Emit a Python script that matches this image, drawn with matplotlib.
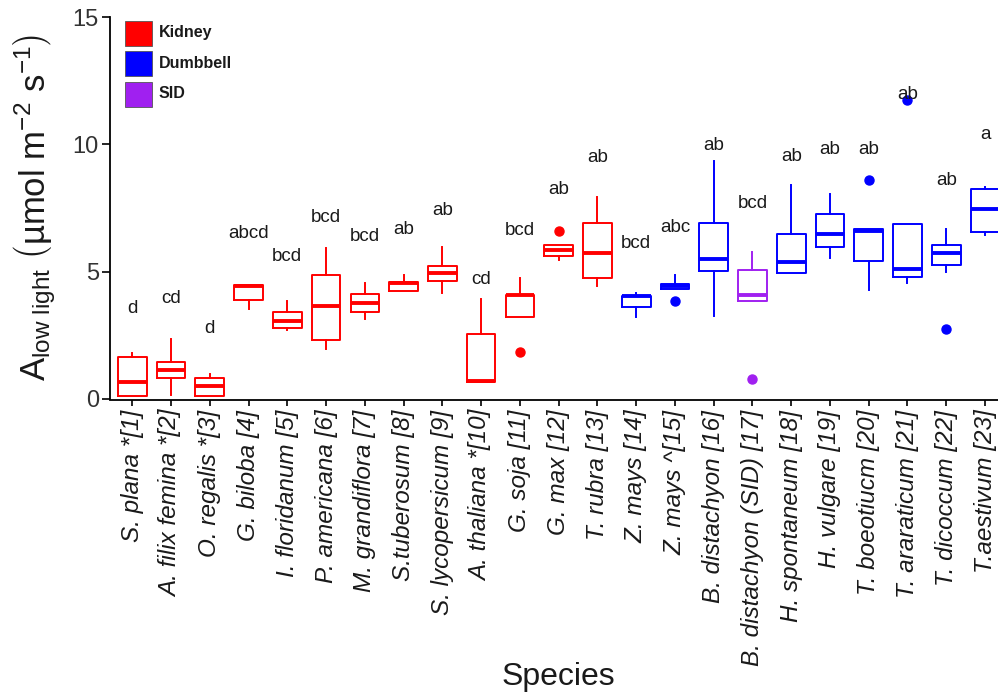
import matplotlib
matplotlib.use("Agg")
import matplotlib.pyplot as plt
from matplotlib.patches import Rectangle

plt.rcParams['font.family'] = ['Liberation Sans', 'DejaVu Sans']
plt.rcParams['mathtext.fontset'] = 'custom'
plt.rcParams['mathtext.rm'] = 'Liberation Sans'
plt.rcParams['mathtext.it'] = 'Liberation Sans:italic'
plt.rcParams['mathtext.bf'] = 'Liberation Sans:bold'

# ---- data -------------------------------------------------------------
species = ["S. plana *[1]", "A. filix femina *[2]", "O. regalis *[3]", "G. biloba [4]",
           "I. floridanum [5]", "P. americana [6]", "M. grandiflora [7]", "S.tuberosum [8]",
           "S. lycopersicum [9]", "A. thaliana *[10]", "G. soja [11]", "G. max [12]",
           "T. rubra [13]", "Z. mays [14]", "Z. mays ^[15]", "B. distachyon [16]",
           "B. distachyon (SID) [17]", "H. spontaneum [18]", "H. vulgare [19]",
           "T. boeotiucm [20]", "T. araraticum [21]", "T. dicoccum [22]", "T.aestivum [23]"]

stomata = ["Kidney"] * 13 + ["Dumbbell"] * 3 + ["SID"] + ["Dumbbell"] * 6

q1 = [0.12, 0.81, 0.12, 3.89, 2.79, 2.32, 3.42, 4.23, 4.65, 0.66, 3.21, 5.61,
      4.74, 3.62, 4.33, 5.01, 3.83, 4.93, 5.96, 5.42, 4.79, 5.27, 6.57]
median = [0.65, 1.14, 0.51, 4.43, 3.06, 3.66, 3.76, 4.55, 4.93, 0.72, 4.08, 5.85,
          5.72, 4.03, 4.45, 5.51, 4.07, 5.39, 6.49, 6.58, 5.10, 5.74, 7.45]
q3 = [1.64, 1.45, 0.82, 4.46, 3.42, 4.87, 4.12, 4.59, 5.22, 2.54, 4.10, 6.03,
      6.92, 4.06, 4.51, 6.92, 5.08, 6.47, 7.28, 6.66, 6.86, 6.05, 8.23]
whisker_low = [0.12, 0.16, 0.12, 3.53, 2.71, 1.96, 3.13, 4.23, 4.15, 0.66, 3.21, 5.46,
               4.44, 3.21, 4.33, 3.26, 3.83, 4.93, 5.54, 4.28, 4.57, 4.99, 6.44]
whisker_high = [1.79, 2.34, 0.97, 4.46, 3.86, 5.93, 4.54, 4.88, 5.98, 3.91, 4.74, 6.03,
                7.92, 4.17, 4.87, 9.36, 5.77, 8.39, 8.05, 6.66, 6.86, 6.67, 8.31]
outliers = {11: [1.85], 12: [6.60], 15: [3.83], 17: [0.80],
            20: [8.59], 21: [11.74], 22: [2.74]}

letters = ["d", "cd", "d", "abcd", "bcd", "bcd", "bcd", "ab", "ab", "cd", "bcd", "ab",
           "ab", "bcd", "abc", "ab", "bcd", "ab", "ab", "ab", "ab", "ab", "a"]
letter_y = [3.57, 3.95, 2.77, 6.50, 5.61, 7.13, 6.37, 6.64, 7.39, 4.71, 6.61, 8.23,
            9.49, 6.11, 6.73, 9.95, 7.68, 9.51, 9.80, 9.80, 11.96, 8.57, 10.37]

y_ticks = [0, 5, 10, 15]

colors = {"Kidney": "#FF0000", "Dumbbell": "#0000FF", "SID": "#A020F0"}

# ---- figure -----------------------------------------------------------
W, H = 998, 700
fig = plt.figure(figsize=(W / 100, H / 100), dpi=100)
ax = fig.add_axes([110 / W, 1 - 400 / H, 888 / W, 383 / H])

positions = list(range(1, len(species) + 1))
stats = []
for i in range(len(species)):
    stats.append(dict(med=median[i], q1=q1[i], q3=q3[i],
                      whislo=whisker_low[i], whishi=whisker_high[i],
                      fliers=outliers.get(i + 1, [])))

art = ax.bxp(stats, positions=positions, widths=0.74, showcaps=False,
             patch_artist=False, manage_ticks=False)

for i, grp in enumerate(stomata):
    c = colors[grp]
    art['boxes'][i].set(color=c, linewidth=1.4)
    art['medians'][i].set(color=c, linewidth=2.8, solid_capstyle='butt')
    for w in art['whiskers'][2 * i:2 * i + 2]:
        w.set(color=c, linewidth=1.4)
    art['fliers'][i].set(marker='o', markerfacecolor=c, markeredgecolor=c,
                         markersize=6.5, linestyle='none')

for x, lab, yv in zip(positions, letters, letter_y):
    ax.text(x, yv, lab, ha='center', va='center', fontsize=13.5, color='#1a1a1a')

ax.set_xlim(0.425, 23.335)
ax.set_ylim(-0.04, 15)
ax.set_yticks(y_ticks)
ax.set_yticklabels([str(t) for t in y_ticks])
ax.set_xticks(positions)
ax.set_xticklabels(species, rotation=90, fontstyle='italic', fontsize=17.5,
                   color='#1a1a1a')

for s in ['top', 'right']:
    ax.spines[s].set_visible(False)
ax.spines['left'].set_bounds(0, 15)
ax.spines['left'].set_linewidth(1.3)
ax.spines['bottom'].set_linewidth(1.3)
ax.tick_params(axis='y', length=6, width=1.2, pad=2, labelsize=17, labelcolor='#333333')
ax.tick_params(axis='x', length=4, width=1.2, pad=3)

fig.text(558 / W, 1 - 677 / H, "Species", ha='center', va='center', fontsize=23,
         color='#1a1a1a')
fig.text(35 / W, 1 - 207 / H,
         r'$\mathrm{A}_{\mathrm{low\ light}}\ \left(\mathrm{µmol\ m^{-2}\ s^{-1}}\right)$',
         rotation=90, ha='center', va='center', fontsize=25, color='#1a1a1a')

# legend of stomatal types
for k, (name, yc) in enumerate(zip(["Kidney", "Dumbbell", "SID"], [33, 63, 94])):
    fig.patches.append(Rectangle((125 / W, 1 - (yc + 12.5) / H), 27 / W, 25 / H,
                                 transform=fig.transFigure, facecolor=colors[name],
                                 edgecolor='#555555', linewidth=0.6))
    fig.text(159 / W, 1 - yc / H, name, ha='left', va='center', fontsize=11.5,
             fontweight='bold', color='#1a1a1a')

fig.savefig("out.png", dpi=100)
